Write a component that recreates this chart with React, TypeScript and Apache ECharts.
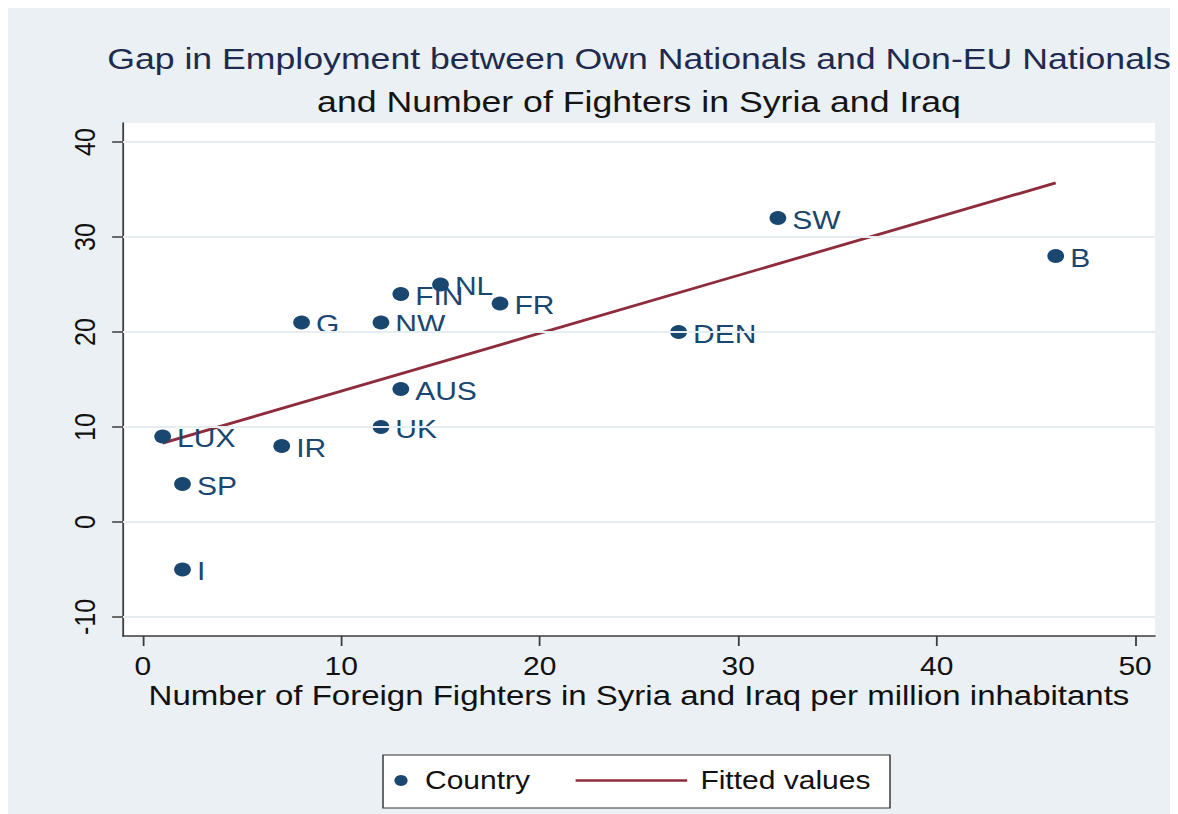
import React, { useEffect, useRef } from "react";
import * as echarts from "echarts";

const countries = ["LUX", "SP", "I", "IR", "G", "NW", "UK", "AUS", "FIN", "NL", "FR", "DEN", "SW", "B"];
const fighters = [1, 2, 2, 7, 8, 12, 12, 13, 13, 15, 18, 27, 32, 46];
const employmentGap = [9, 4, -5, 8, 21, 21, 10, 14, 24, 25, 23, 20, 32, 28];
const fittedX = [1, 46];
const fittedY = [8.3, 35.7];
const xTicks = [0, 10, 20, 30, 40, 50];
const yTicks = [-10, 0, 10, 20, 30, 40];

const titleLine1 = "Gap in Employment between Own Nationals and Non-EU Nationals";
const titleLine2 = "and Number of Fighters in Syria and Iraq";
const xAxisTitle = "Number of Foreign Fighters in Syria and Iraq per million inhabitants";

const STRETCH = 1.2;
const OUTER_W = 1170;
const OUTER_H = 806;
const INNER_W = OUTER_W / STRETCH;

const FONT = "'Liberation Sans', Arial, Helvetica, sans-serif";
const NAVY = "#1a476f";
const MAROON = "#8e2c3b";
const AXIS = "#3c3c3c";

export default function App() {
  const ref = useRef<HTMLDivElement>(null);
  useEffect(() => {
    const prevOverflow = document.documentElement.style.overflow;
    document.documentElement.style.overflow = "hidden";
    const chart = echarts.init(ref.current as HTMLDivElement, null, { renderer: "svg" });
    const gridLeft = 95.8;
    const plotWidth = 860;
    const gridRight = INNER_W - gridLeft - plotWidth;
    const plotCenter = gridLeft + plotWidth / 2;
    chart.setOption({
      animation: false,
      backgroundColor: "#eaf0f3",
      grid: {
        left: gridLeft,
        right: gridRight,
        top: 115,
        bottom: 178,
        show: true,
        backgroundColor: "#ffffff",
        borderWidth: 0,
      },
      graphic: [
        {
          type: "text",
          x: plotCenter,
          y: 51,
          style: {
            text: titleLine1,
            align: "center",
            verticalAlign: "middle",
            fontSize: 29.7,
            fontFamily: FONT,
            fill: "#1f2b4e",
          },
        },
        {
          type: "text",
          x: plotCenter,
          y: 94,
          style: {
            text: titleLine2,
            align: "center",
            verticalAlign: "middle",
            fontSize: 29.7,
            fontFamily: FONT,
            fill: "#141414",
          },
        },
        {
          type: "rect",
          z: 0,
          shape: { x: 312.5, y: 747, width: 422.5, height: 53 },
          style: { fill: "#ffffff", stroke: "#333333", lineWidth: 1.2 },
        },
      ],
      legend: [
        {
          data: [{ name: "Country", icon: "circle" }],
          left: 322,
          top: 760,
          padding: 0,
          itemWidth: 30,
          itemHeight: 11,
          textStyle: { fontSize: 25, color: "#111111", fontFamily: FONT },
          z: 5,
        },
        {
          data: [{ name: "Fitted values", icon: "rect" }],
          left: 473,
          top: 760,
          padding: 0,
          itemWidth: 93,
          itemHeight: 2.5,
          textStyle: { fontSize: 25, color: "#111111", fontFamily: FONT, padding: [0, 0, 0, 6] },
          z: 5,
        },
      ],
      xAxis: {
        type: "value",
        min: -1,
        max: 51,
        name: xAxisTitle,
        nameLocation: "middle",
        nameGap: 47,
        nameMoveOverlap: false,
        nameTextStyle: { fontSize: 27.5, lineHeight: 24, color: "#111111", fontFamily: FONT },
        axisLine: { show: true, onZero: false, lineStyle: { color: AXIS, width: 1.5 } },
        axisTick: { show: true, length: 10, customValues: xTicks, lineStyle: { color: AXIS, width: 1.5 } },
        axisLabel: {
          customValues: xTicks,
          fontSize: 25,
          lineHeight: 20,
          color: "#111111",
          fontFamily: FONT,
          margin: 20,
        },
        splitLine: { show: false },
      },
      yAxis: {
        type: "value",
        min: -12,
        max: 42,
        axisLine: { show: true, onZero: false, lineStyle: { color: AXIS, width: 1.5 } },
        axisTick: { show: true, length: 9, customValues: yTicks, lineStyle: { color: AXIS, width: 1.5 } },
        axisLabel: {
          customValues: yTicks,
          rotate: 90,
          fontSize: 25,
          color: "#111111",
          fontFamily: FONT,
          margin: 19,
        },
        splitLine: { show: false },
      },
      series: [
        {
          name: "gridlines",
          type: "line",
          data: [],
          z: 1,
          markLine: {
            silent: true,
            symbol: "none",
            label: { show: false },
            lineStyle: { color: "#e6edf0", width: 2, type: "solid" },
            data: yTicks.map((v) => ({ yAxis: v })),
          },
        },
        {
          name: "Fitted values",
          type: "line",
          z: 3,
          symbol: "none",
          data: fittedX.map((x, i) => [x, fittedY[i]]),
          lineStyle: { color: MAROON, width: 2.8 },
          itemStyle: { color: MAROON },
        },
        {
          name: "Country",
          type: "scatter",
          z: 4,
          symbolSize: 14,
          itemStyle: { color: NAVY, opacity: 1 },
          data: fighters.map((x, i) => ({ name: countries[i], value: [x, employmentGap[i]] })),
          label: {
            show: true,
            position: "right",
            distance: 5,
            offset: [0, 2],
            formatter: "{b}",
            fontSize: 25,
            color: NAVY,
            fontFamily: FONT,
          },
        },
      ],
    });
    return () => {
      chart.dispose();
      document.documentElement.style.overflow = prevOverflow;
    };
  }, []);
  return (
    <div style={{ width: OUTER_W, height: OUTER_H, background: "#eaf0f3", overflow: "hidden" }}>
      <div
        ref={ref}
        style={{
          width: INNER_W,
          height: OUTER_H,
          transform: `scaleX(${STRETCH})`,
          transformOrigin: "0 0",
        }}
      />
    </div>
  );
}
